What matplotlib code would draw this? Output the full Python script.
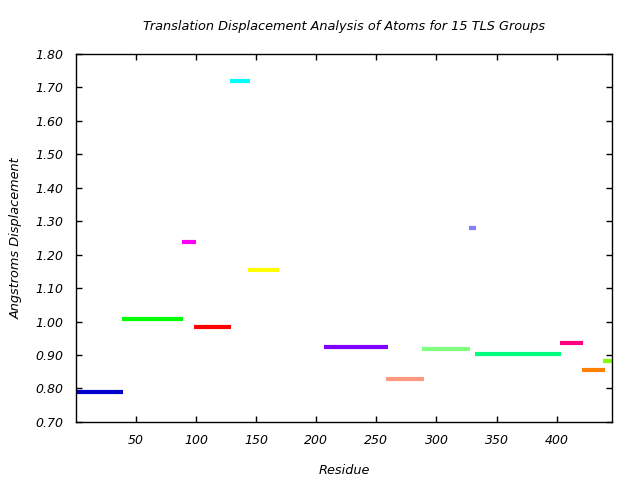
#!/usr/bin/env python3

import matplotlib
matplotlib.use("Agg")
import matplotlib.pyplot as plt

# TLS group residue ranges and translation displacement values
starts = [0, 38, 88, 98, 128, 143, 206, 258, 288, 327, 332, 403, 421, 439]
ends = [39, 89, 100, 129, 145, 169, 260, 290, 327.5, 332.5, 404, 422, 440, 446]
values = [0.79, 1.008, 1.238, 0.984, 1.718, 1.154, 0.924, 0.828, 0.918, 1.279, 0.903, 0.936, 0.855, 0.882]
colors = ["#0000cc", "#00ff00", "#ff00ff", "#ff0000", "#00ffff", "#ffff00", "#8000ff",
          "#ff9980", "#80ff80", "#8080ff", "#00ff80", "#ff0080", "#ff8000", "#80ff00"]

xticks = [50, 100, 150, 200, 250, 300, 350, 400]
yticks = [0.70, 0.80, 0.90, 1.00, 1.10, 1.20, 1.30, 1.40, 1.50, 1.60, 1.70, 1.80]


def main():
    plt.rcParams["font.family"] = ["DejaVu Sans"]
    fig = plt.figure(figsize=(6.4, 4.8), dpi=100)
    ax = fig.add_axes([0.119, 0.121, 0.837, 0.767])

    for s, e, v, c in zip(starts, ends, values, colors):
        ax.hlines(v, s, e, colors=c, linewidth=3)

    ax.set_xlim(0, 446)
    ax.set_ylim(0.70, 1.80)
    ax.set_xticks(xticks)
    ax.set_yticks(yticks)
    ax.set_yticklabels([f"{t:.2f}" for t in yticks])
    ax.tick_params(direction="in", top=True, right=True, length=4, width=1,
                   labelsize=9, pad=9)
    for lab in ax.get_xticklabels() + ax.get_yticklabels():
        lab.set_fontstyle("italic")
    for sp in ax.spines.values():
        sp.set_linewidth(1)

    ax.set_title("Translation Displacement Analysis of Atoms for 15 TLS Groups",
                 fontsize=9.3, style="italic", pad=17)
    ax.set_xlabel("Residue", fontsize=9.3, style="italic", labelpad=12)
    ax.set_ylabel("Angstroms Displacement", fontsize=9.3, style="italic", labelpad=9)

    fig.savefig("out.png", dpi=100)


if __name__ == "__main__":
    main()
